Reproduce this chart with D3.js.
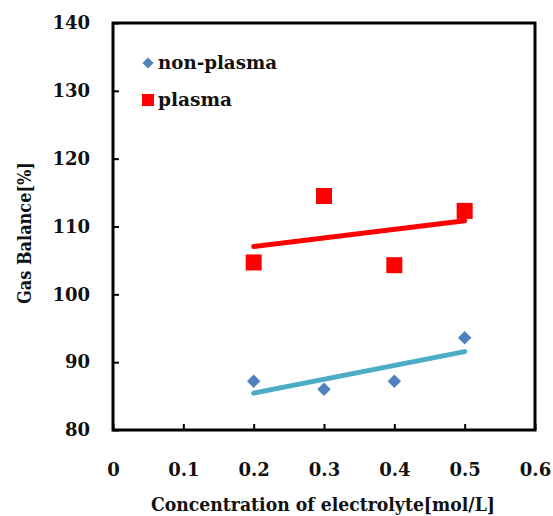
<!DOCTYPE html>
<html>
<head>
<meta charset="utf-8">
<script src="https://cdn.jsdelivr.net/npm/d3@7"></script>
<style>
body{margin:0;background:#fff}
text{font-family:"DejaVu Serif",serif;font-weight:bold;fill:#111}
</style>
</head>
<body>
<div id="chart"></div>
<script>
const concentration = [0.2, 0.3, 0.4, 0.5]
const nonPlasma = [87.2, 86.0, 87.2, 93.6]
const plasma = [104.7, 114.5, 104.3, 112.3]
const xTicks = [0, 0.1, 0.2, 0.3, 0.4, 0.5, 0.6]
const yTicks = [80, 90, 100, 110, 120, 130, 140]

drawChart("#chart")

function drawChart(id){
    const canvas = createCanvas()
    const svg = d3.select(id).append("svg").attr("width",canvas.width).attr("height",canvas.height)
    const sc = addScales(canvas)

    addFrame(svg,sc,canvas)
    addTrend(svg,sc,nonPlasma,"#4bacc6")
    addTrend(svg,sc,plasma,"#ff0000")
    addPoints(svg,sc)
    addLegend(svg)
    addLabels(svg,canvas)
}

function createCanvas(){
    return{
        width : 553, height: 516, margin:{top: 23,right:18, bottom:86, left:113}
    }
}

function addScales(canvas){
    const xScale = d3.scaleLinear().domain([0,0.6])
      .range([canvas.margin.left,canvas.width - canvas.margin.right])
    const yScale = d3.scaleLinear().domain([80,140])
      .range([canvas.height - canvas.margin.bottom,canvas.margin.top])
    return {xScale,yScale}
}

function addFrame(svg,sc,canvas){
    const [x0,x1] = sc.xScale.range()
    const [y0,y1] = sc.yScale.range()

    const xAxis = svg.append("g").attr("transform",`translate(0,${y0})`)
      .call(d3.axisBottom(sc.xScale).tickValues(xTicks).tickSizeInner(-6).tickSizeOuter(0)
        .tickFormat(d => d === 0 ? "0" : d3.format(".1f")(d)))
    xAxis.select(".domain").remove()
    xAxis.selectAll("line").attr("stroke","#000").attr("stroke-width",2)
    xAxis.selectAll("text").attr("y",33).attr("font-size","18px")
      .style("font-family","DejaVu Serif").style("font-weight","bold")

    const yAxis = svg.append("g").attr("transform",`translate(${x0},0)`)
      .call(d3.axisLeft(sc.yScale).tickValues(yTicks).tickSizeInner(-6).tickSizeOuter(0))
    yAxis.select(".domain").remove()
    yAxis.selectAll("line").attr("stroke","#000").attr("stroke-width",2)
    yAxis.selectAll("text").attr("x",-23).attr("font-size","18px")
      .style("font-family","DejaVu Serif").style("font-weight","bold")

    svg.append("rect").attr("x",x0).attr("y",y1).attr("width",x1-x0).attr("height",y0-y1)
      .attr("fill","none").attr("stroke","#000").attr("stroke-width",3)
}

function addTrend(svg,sc,values,color){
    // least squares line like the excel trendline
    const mx = d3.mean(concentration), my = d3.mean(values)
    const slope = d3.sum(concentration,(x,i) => (x-mx)*(values[i]-my)) / d3.sum(concentration,x => (x-mx)*(x-mx))
    const xs = d3.extent(concentration)
    svg.append("line")
      .attr("x1",sc.xScale(xs[0])).attr("x2",sc.xScale(xs[1]))
      .attr("y1",sc.yScale(my + slope*(xs[0]-mx))).attr("y2",sc.yScale(my + slope*(xs[1]-mx)))
      .attr("stroke",color).attr("stroke-width",5).attr("stroke-linecap","round")
}

function addPoints(svg,sc){
    svg.selectAll("path.np").data(nonPlasma).enter().append("path").attr("class","np")
      .attr("d",d3.symbol(d3.symbolDiamond2,115))
      .attr("transform",(d,i) => `translate(${sc.xScale(concentration[i])},${sc.yScale(d)})`)
      .attr("fill","#4f81bd")

    svg.selectAll("rect.pl").data(plasma).enter().append("rect").attr("class","pl")
      .attr("x",(d,i) => sc.xScale(concentration[i]) - 8).attr("y",d => sc.yScale(d) - 8)
      .attr("width",16).attr("height",16).attr("fill","#ff0000")
}

function addLegend(svg){
    svg.append("path").attr("d",d3.symbol(d3.symbolDiamond2,80))
      .attr("transform","translate(148,63)").attr("fill","#4f81bd")
    svg.append("text").attr("x",158).attr("y",69).attr("font-size","18px")
      .attr("textLength",119).attr("lengthAdjust","spacingAndGlyphs").text("non-plasma")

    svg.append("rect").attr("x",142).attr("y",94).attr("width",12).attr("height",12).attr("fill","#ff0000")
    svg.append("text").attr("x",158).attr("y",106).attr("font-size","18px")
      .attr("textLength",74).attr("lengthAdjust","spacingAndGlyphs").text("plasma")
}

function addLabels(svg,canvas){
    svg.append("text").attr("x",323).attr("y",511)
      .attr("text-anchor","middle").attr("font-size","18px")
      .attr("textLength",344).attr("lengthAdjust","spacingAndGlyphs")
      .text("Concentration of electrolyte[mol/L]")

    svg.append("text").attr("transform","translate(31,233) rotate(-90)")
      .attr("text-anchor","middle").attr("font-size","18px")
      .attr("textLength",142).attr("lengthAdjust","spacingAndGlyphs")
      .text("Gas Balance[%]")
}
</script>
</body>
</html>
